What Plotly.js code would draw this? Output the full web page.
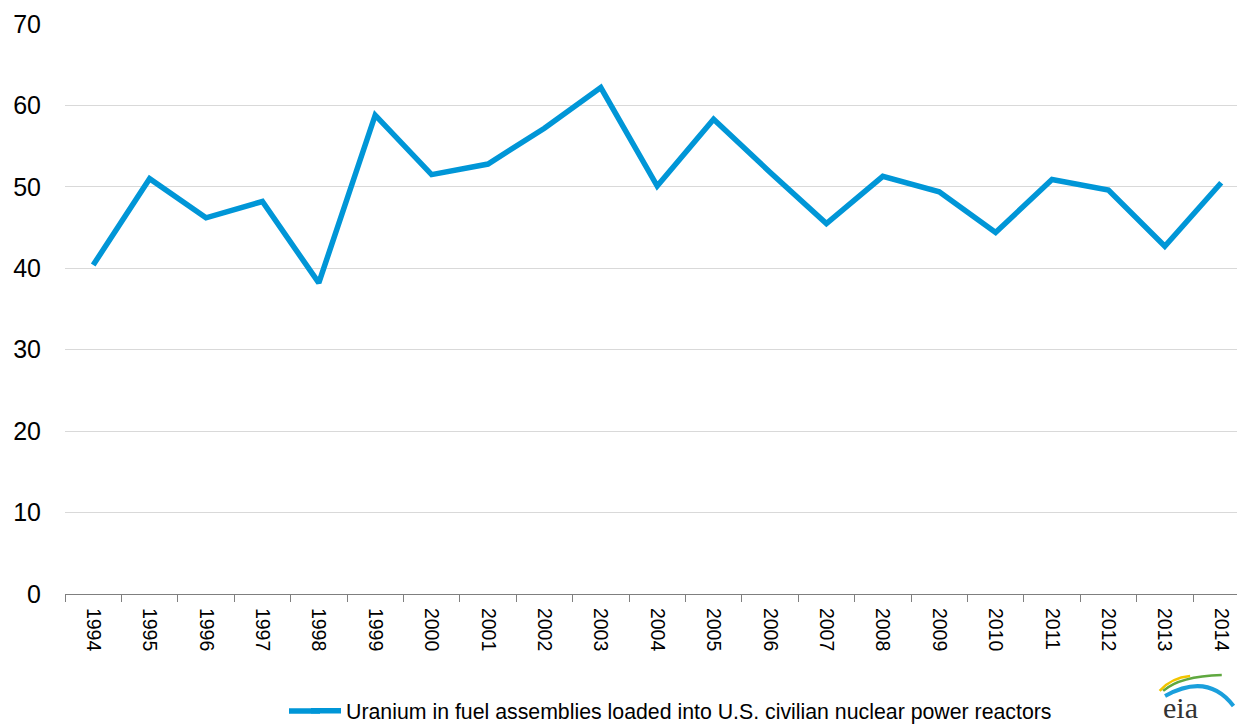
<!DOCTYPE html>
<html>
<head>
<meta charset="utf-8">
<script src="https://cdn.plot.ly/plotly-3.0.1.min.js"></script>
<style>html,body{margin:0;padding:0;background:#fff;}#chart{width:1237px;height:726px;}</style>
</head>
<body>
<div id="chart"></div>
<script>
const years = ["1994","1995","1996","1997","1998","1999","2000","2001","2002","2003","2004","2005","2006","2007","2008","2009","2010","2011","2012","2013","2014"];
const uranium = [40.4, 51.0, 46.2, 48.2, 38.2, 58.8, 51.5, 52.8, 57.2, 62.2, 50.1, 58.3, 51.8, 45.5, 51.3, 49.4, 44.4, 50.9, 49.6, 42.7, 50.5];
const seriesName = "Uranium in fuel assemblies loaded into U.S. civilian nuclear power reactors";
const yTicks = [0, 10, 20, 30, 40, 50, 60, 70];

const lineColor = "#0096d7";
const legendY = 711;

const trace = {
  x: years,
  y: uranium,
  type: "scatter",
  mode: "lines",
  name: seriesName,
  line: {color: lineColor, width: 5.5, shape: "linear"},
  hoverinfo: "x+y"
};

const layout = {
  width: 1237,
  height: 726,
  margin: {l: 65, r: 0, t: 24, b: 132, autoexpand: false},
  paper_bgcolor: "#ffffff",
  plot_bgcolor: "#ffffff",
  font: {family: "Liberation Sans, Arial, sans-serif", color: "#000000"},
  showlegend: true,
  legend: {
    orientation: "h",
    xref: "container", yref: "container",
    x: 306 / 1237, xanchor: "left",
    y: 1 - legendY / 726, yanchor: "middle",
    font: {size: 21.3, color: "#000000"},
    itemwidth: 30,
    bgcolor: "rgba(0,0,0,0)"
  },
  xaxis: {
    type: "category",
    range: [-0.5, 20.28],
    automargin: false,
    showgrid: false,
    showline: true,
    linecolor: "#7f7f7f",
    linewidth: 1,
    ticks: "outside",
    tickson: "boundaries",
    ticklen: 7,
    tickcolor: "#7f7f7f",
    tickangle: 90,
    ticklabelstandoff: 9,
    tickfont: {size: 19.5, color: "#000000"},
    zeroline: false,
    fixedrange: true
  },
  yaxis: {
    range: [0, 70],
    automargin: false,
    tickvals: yTicks,
    ticktext: yTicks.map(String),
    showgrid: true,
    gridcolor: "#d9d9d9",
    gridwidth: 1,
    zeroline: false,
    showline: false,
    ticks: "",
    ticklabelstandoff: 23,
    tickfont: {size: 25, color: "#000000"},
    fixedrange: true
  },
  shapes: [
    // extension of the legend swatch to match the longer legend line
    {type: "line", xref: "paper", yref: "paper",
     x0: (289 - 65) / 1172, x1: (320 - 65) / 1172, y0: (594 - legendY) / 570, y1: (594 - legendY) / 570,
     line: {color: lineColor, width: 5.5}},
    // eia logo arcs
    {type: "path", xref: "paper", yref: "paper",
     path: "M 0.934 -0.170 Q 0.944 -0.147 0.960 -0.144", line: {color: "#f2c500", width: 2.5}},
    {type: "path", xref: "paper", yref: "paper",
     path: "M 0.937 -0.170 Q 0.951 -0.144 0.987 -0.142", line: {color: "#5fa83f", width: 2.5}},
    {type: "path", xref: "paper", yref: "paper",
     path: "M 0.9386 -0.179 Q 0.975 -0.137 0.997 -0.1965", line: {color: "#1a9fdc", width: 4}}
  ],
  annotations: [
    {xref: "paper", yref: "paper", x: 0.935, y: -0.2316, xanchor: "left", yanchor: "bottom",
     text: "eia", showarrow: false, font: {size: 30, color: "#333333", family: "Liberation Serif, serif"}}
  ]
};

Plotly.newPlot("chart", [trace], layout, {displayModeBar: false, staticPlot: true});
</script>
</body>
</html>
